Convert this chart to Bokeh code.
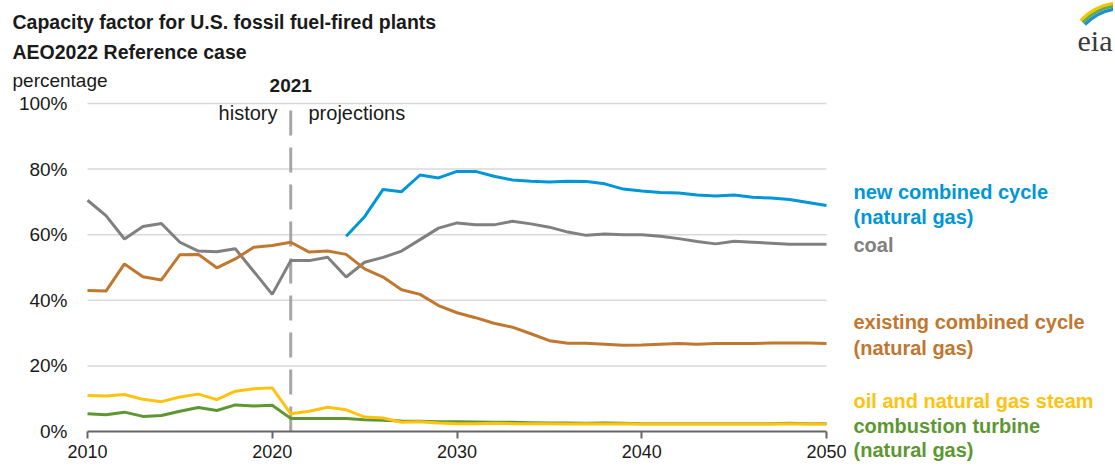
from bokeh.plotting import figure
from bokeh.models import Range1d, Label, PrintfTickFormatter, FixedTicker
from bokeh.embed import file_html
from bokeh.resources import INLINE

# ---------------- data ----------------
years = list(range(2010, 2051))
coal = [70.5, 65.8, 58.7, 62.5, 63.4, 57.7, 55.0, 54.8, 55.7, 48.8,
        41.8, 52.1, 52.1, 53.1, 47.1, 51.6, 53.1, 55.0, 58.5, 62.0,
        63.6, 63.0, 63.0, 64.1, 63.3, 62.3, 60.8, 59.8, 60.2, 60.0,
        60.0, 59.5, 58.8, 57.9, 57.2, 58.0, 57.7, 57.4, 57.1, 57.1, 57.1]
existing_cc = [43.0, 42.8, 51.1, 47.2, 46.2, 53.9, 54.0, 49.9, 52.6, 56.2,
               56.7, 57.7, 54.7, 55.0, 54.0, 49.6, 47.1, 43.2, 41.8, 38.4,
               36.2, 34.7, 33.0, 31.8, 29.8, 27.7, 26.9, 26.9, 26.6, 26.3,
               26.4, 26.6, 26.8, 26.6, 26.8, 26.8, 26.8, 27.0, 27.0, 27.0, 26.8]
new_cc_years = list(range(2024, 2051))
new_cc = [59.5, 65.5, 73.8, 73.1, 78.2, 77.3, 79.3, 79.3, 77.8, 76.7,
          76.3, 76.1, 76.3, 76.2, 75.5, 73.9, 73.3, 72.9, 72.7, 72.1,
          71.8, 72.1, 71.4, 71.2, 70.7, 69.8, 68.9]
oil_gas_steam = [11.0, 10.8, 11.3, 9.8, 9.1, 10.5, 11.4, 9.7, 12.3, 13.0,
                 13.3, 5.4, 6.2, 7.4, 6.6, 4.4, 4.1, 2.8, 3.0, 2.6,
                 2.4, 2.4, 2.5, 2.4, 2.4, 2.4, 2.3, 2.4, 2.3, 2.4,
                 2.3, 2.3, 2.3, 2.3, 2.3, 2.3, 2.3, 2.3, 2.4, 2.3, 2.3]
combustion_turbine = [5.4, 5.1, 5.9, 4.6, 4.9, 6.2, 7.3, 6.4, 8.1, 7.8,
                      8.0, 4.0, 4.0, 4.0, 4.0, 3.6, 3.4, 3.2, 3.1, 3.0,
                      3.0, 2.9, 2.8, 2.8, 2.7, 2.6, 2.6, 2.5, 2.6, 2.5,
                      2.4, 2.4, 2.4, 2.4, 2.4, 2.4, 2.4, 2.4, 2.5, 2.4, 2.4]
x_ticks = [2010, 2020, 2030, 2040, 2050]
y_ticks = [0, 20, 40, 60, 80, 100]
grid_levels = [20, 40, 60, 80, 100]
divider_year = 2021

# ---------------- layout (pixel geometry) ----------------
W, H = 1113, 465
PX_X0, PX_X1 = 87, 826      # canvas px of first / last x tick
PX_Y0, PX_Y100 = 431, 103   # canvas px of 0% / 100%
X_MIN, X_MAX = x_ticks[0], x_ticks[-1]
sx = (PX_X1 - PX_X0) / (X_MAX - X_MIN)
sy = (PX_Y0 - PX_Y100) / 100.0
BASELINE_FIX = 7            # label baseline correction (px)


def X(px):
    return X_MIN + (px - PX_X0) / sx


def Y(py):
    return (PX_Y0 - py) / sy


# ---------------- styles ----------------
BLUE = "#0096D7"
GRAY = "#808080"
ORANGE = "#C0772F"
YELLOW = "#FFC20E"
GREEN = "#5D9732"
FONT = "Liberation Sans"
TXT = "#1A1A1A"

p = figure(width=W, height=H, output_backend="svg", toolbar_location=None,
           title=None,
           x_range=Range1d(X(0), X(W)), y_range=Range1d(Y(H), Y(0)),
           min_border=0)
p.outline_line_color = None
p.background_fill_color = "white"
p.border_fill_color = "white"
p.xgrid.visible = False
p.ygrid.visible = False

# axes drawn at fixed locations inside the canvas
p.xaxis.fixed_location = 0
p.xaxis.bounds = (X_MIN, X_MAX)
p.xaxis.ticker = FixedTicker(ticks=x_ticks)
p.xaxis.axis_line_color = "#666666"
p.xaxis.axis_line_width = 2
p.xaxis.major_tick_line_color = "#666666"
p.xaxis.major_tick_line_width = 2
p.xaxis.major_tick_out = 7
p.xaxis.major_tick_in = 0
p.xaxis.minor_tick_line_color = None
p.xaxis.major_label_standoff = 6
p.xaxis.major_label_text_font = FONT
p.xaxis.major_label_text_font_size = "18px"
p.xaxis.major_label_text_color = TXT

p.yaxis.fixed_location = X_MIN
p.yaxis.bounds = (0, 100)
p.yaxis.ticker = FixedTicker(ticks=y_ticks)
p.yaxis.formatter = PrintfTickFormatter(format="%d%%")
p.yaxis.axis_line_color = None
p.yaxis.major_tick_line_color = None
p.yaxis.minor_tick_line_color = None
p.yaxis.major_tick_out = 0
p.yaxis.major_tick_in = 0
p.yaxis.major_label_standoff = 20
p.yaxis.major_label_text_font = FONT
p.yaxis.major_label_text_font_size = "19px"
p.yaxis.major_label_text_color = TXT

# horizontal grid lines, limited to the data span
p.segment(x0=[X_MIN] * len(grid_levels), y0=grid_levels,
          x1=[X_MAX] * len(grid_levels), y1=grid_levels,
          line_color="#D9D9D9", line_width=1.5, level="underlay")

# history / projections divider
p.segment(x0=[divider_year], y0=[Y(110)], x1=[divider_year], y1=[0],
          line_color="#A6A6A6", line_width=3, line_dash="25 12")

# series
p.line(years, coal, line_color=GRAY, line_width=3)
p.line(years, existing_cc, line_color=ORANGE, line_width=3)
p.line(new_cc_years, new_cc, line_color=BLUE, line_width=3)
p.line(years, combustion_turbine, line_color=GREEN, line_width=3)
p.line(years, oil_gas_steam, line_color=YELLOW, line_width=3)


def lab(px, py, text, size="20px", style="normal", color=TXT, align="left",
        font=FONT):
    p.add_layout(Label(x=X(px), y=Y(py - BASELINE_FIX), text=text, text_font=font,
                       text_font_size=size, text_font_style=style,
                       text_color=color, text_align=align,
                       text_baseline="alphabetic"))


# titles
lab(12, 28, "Capacity factor for U.S. fossil fuel-fired plants", size="19.5px", style="bold")
lab(12, 58, "AEO2022 Reference case", size="19.5px", style="bold")
lab(12, 87, "percentage", size="19px")
lab(PX_X0 + (divider_year - X_MIN) * sx, 92, "2021", size="19px", style="bold", align="center")
lab(277, 119, "history", align="right")
lab(308, 119, "projections", align="left")

# series labels
LX = 853
lab(LX, 198, "new combined cycle", style="bold", color=BLUE)
lab(LX, 223, "(natural gas)", style="bold", color=BLUE)
lab(LX, 251, "coal", style="bold", color=GRAY)
lab(LX, 328, "existing combined cycle", style="bold", color=ORANGE)
lab(LX, 354, "(natural gas)", style="bold", color=ORANGE)
lab(LX, 407, "oil and natural gas steam", style="bold", color=YELLOW)
lab(LX, 432, "combustion turbine", style="bold", color=GREEN)
lab(LX, 456, "(natural gas)", style="bold", color=GREEN)

# logo
lab(1077, 47, "eia", size="30px", color="#3A3A3A", font="Liberation Serif")
for r, c in zip([58, 55, 52], ["#F2C500", "#6AA842", "#1E8FCF"]):
    p.arc(x=[X(1122)], y=[Y(60)], radius=r, radius_units="screen",
          start_angle=1.72, end_angle=2.38, line_color=c, line_width=3)

open("out.html", "w").write(file_html(p, INLINE))
